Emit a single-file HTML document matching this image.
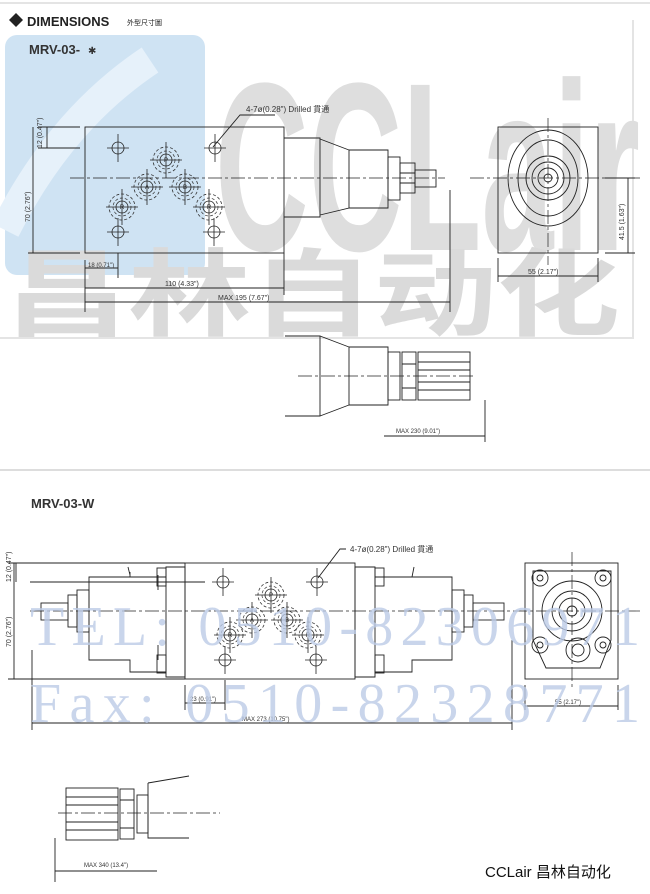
<!DOCTYPE html>
<html><head><meta charset="utf-8"><style>
html,body{margin:0;padding:0;background:#fff}
svg{display:block}
</style></head><body>
<svg width="650" height="894" viewBox="0 0 650 894" xmlns="http://www.w3.org/2000/svg" font-family="Liberation Sans, Noto Sans CJK SC, sans-serif">
<defs>
<g id="h"><circle r="6" fill="none" stroke="#222" stroke-width="0.8"/><path d="M-11 0H11M0 -14V14" stroke="#222" stroke-width="0.8"/></g>
<g id="p"><circle r="13" fill="none" stroke="#333" stroke-width="0.8" stroke-dasharray="3 2"/><circle r="9" fill="none" stroke="#333" stroke-width="0.7" stroke-dasharray="3 2"/><circle r="6" fill="none" stroke="#222" stroke-width="0.8"/><path d="M-16 0H16M0 -18V18" stroke="#222" stroke-width="0.8"/></g>
</defs>
<rect x="0" y="0" width="650" height="340" fill="#fff"/>
<path d="M0 3H650M633 20V338H0" stroke="#e4e4e4" stroke-width="2" fill="none"/>
<!-- watermark -->
<rect x="5" y="35" width="200" height="240" rx="12" fill="#cfe3f3"/>
<path d="M5 230 Q60 120 150 60" stroke="#e6f1fa" stroke-width="30" fill="none"/>
<text x="215" y="250" font-size="240" font-weight="bold" fill="#dedede" textLength="425" lengthAdjust="spacingAndGlyphs">CCLair</text>
<text x="5" y="328" font-size="95" font-weight="bold" fill="#dadada" style="font-family:'Noto Sans CJK SC',sans-serif" textLength="615" lengthAdjust="spacingAndGlyphs">昌林自动化</text>
<!-- header -->
<path d="M9 20L16 13L23 20L16 27Z" fill="#222"/>
<text x="27" y="26" font-size="13" font-weight="bold" fill="#222">DIMENSIONS</text>
<text x="127" y="25" font-size="7" fill="#222">外型尺寸圖</text>
<text x="29" y="54" font-size="13" font-weight="bold" fill="#333">MRV-03-</text>
<text x="88" y="54" font-size="10" fill="#333">✱</text>
<g stroke="#222" stroke-width="0.9" fill="none">
<rect x="85" y="127" width="199" height="126"/>
<path d="M284 138H320V217H284M320 139L349 150V208L320 215M349 150H388V208H349"/>
<rect x="388" y="157" width="12" height="43"/>
<rect x="400" y="163" width="15" height="30"/>
<path d="M400 173H415M400 183H415"/>
<rect x="415" y="170" width="21" height="17"/>
<path d="M70 178H445M470 178H640" stroke-dasharray="14 3 3 3" stroke-width="0.7"/>
<path d="M548 118V265" stroke-dasharray="14 3 3 3" stroke-width="0.7"/>
<rect x="498" y="127" width="100" height="126"/>
<ellipse cx="548" cy="178" rx="40" ry="48"/>
<ellipse cx="548" cy="178" rx="30" ry="38"/>
<circle cx="548" cy="178" r="22"/><circle cx="548" cy="178" r="16"/><circle cx="548" cy="178" r="10"/><circle cx="548" cy="178" r="4"/>
<path d="M38 127H80M38 148H80M47 127V148M28 253H80M33 127V253M85 260V312M118 253V278M284 253V295M450 190V312M85 268H118M85 288H284M85 302H450M498 258V282M598 258V282M498 276H598M605 178H635M605 253H635M628 178V253"/>
<path d="M213 147L240 115H275"/>
<path d="M285 336H320V416H285M320 336L349 347V405L320 416M349 347H388V405H349"/>
<rect x="388" y="352" width="12" height="48"/>
<rect x="402" y="352" width="14" height="48"/>
<rect x="418" y="352" width="52" height="48"/>
<path d="M402 364H416M402 388H416M418 362H470M418 370H470M418 382H470M418 390H470M485 400V442M384 436H485"/>
<path d="M298 376H475" stroke-dasharray="14 3 3 3" stroke-width="0.7"/>
<rect x="185" y="563" width="170" height="116"/>
<path d="M166 567H185V677H166ZM166 577H130V575L128 567M130 577H89V660H130V672H166M130 577V572M158 575V590M158 645V660"/>
<path d="M375 567H355V677H375ZM375 577H412L414 567M412 577H452V660H412V672H375"/>
<rect x="157" y="568" width="9" height="18"/><rect x="157" y="655" width="9" height="18"/>
<rect x="375" y="568" width="9" height="18"/><rect x="375" y="655" width="9" height="18"/>
<rect x="77" y="590" width="12" height="42"/><rect x="68" y="595" width="9" height="32"/>
<rect x="41" y="603" width="27" height="17"/>
<rect x="452" y="590" width="12" height="42"/><rect x="464" y="595" width="9" height="32"/>
<rect x="473" y="603" width="31" height="17"/>
<path d="M30 611H640" stroke-dasharray="14 3 3 3" stroke-width="0.7"/>
<path d="M572 552V690" stroke-dasharray="14 3 3 3" stroke-width="0.7"/>
<rect x="525" y="563" width="93" height="116"/>
<path d="M533 571H611V640L600 668H546L533 640Z"/>
<circle cx="572" cy="611" r="30"/><circle cx="572" cy="611" r="20"/><circle cx="572" cy="611" r="13"/><circle cx="572" cy="611" r="5"/>
<circle cx="578" cy="650" r="12"/><circle cx="578" cy="650" r="6"/>
<circle cx="540" cy="578" r="8"/><circle cx="540" cy="578" r="3"/>
<circle cx="603" cy="578" r="8"/><circle cx="603" cy="578" r="3"/>
<circle cx="540" cy="645" r="8"/><circle cx="540" cy="645" r="3"/>
<circle cx="603" cy="645" r="8"/><circle cx="603" cy="645" r="3"/>
<path d="M8 563H185M30 582H205M8 679H185M16 563V582M14 563V679M185 685V710M225 680V710M185 703H225M32 650V730M512 640V730M32 723H512M525 685V710M618 685V710M525 706H618"/>
<path d="M318 578L340 549H346"/>
<rect x="66" y="788" width="52" height="52"/>
<path d="M66 797H118M66 805H118M66 822H118M66 830H118"/>
<rect x="120" y="789" width="14" height="50"/>
<path d="M120 800H134M120 828H134"/>
<rect x="137" y="795" width="11" height="38"/>
<path d="M148 783L189 776M148 783V838H189"/>
<path d="M58 813H220" stroke-dasharray="14 3 3 3" stroke-width="0.7"/>
<path d="M55 838V882M55 871H157"/>
</g>
<use href="#h" x="118" y="148"/><use href="#h" x="215" y="148"/>
<use href="#h" x="118" y="232"/><use href="#h" x="214" y="232"/>
<use href="#p" x="166" y="160"/><use href="#p" x="147" y="187"/><use href="#p" x="185" y="187"/>
<use href="#p" x="122" y="207"/><use href="#p" x="209" y="207"/>
<g font-size="6" fill="#222" text-anchor="middle"><text x="166" y="162">P</text><text x="147" y="189">A</text><text x="185" y="189">B</text><text x="122" y="209">R</text><text x="209" y="209">R</text>
<text x="271" y="597">P</text><text x="252" y="622">A</text><text x="287" y="622">B</text><text x="230" y="637">R</text><text x="308" y="637">R</text></g>
<use href="#h" x="223" y="582"/><use href="#h" x="317" y="582"/>
<use href="#h" x="225" y="660"/><use href="#h" x="316" y="660"/>
<use href="#p" x="271" y="595"/><use href="#p" x="252" y="620"/><use href="#p" x="287" y="620"/>
<use href="#p" x="230" y="635"/><use href="#p" x="308" y="635"/>
<g fill="#333" font-size="7">
<text x="246" y="112" font-size="8">4-7ø(0.28") Drilled 貫通</text>
<text transform="translate(42,148) rotate(-90)">12 (0.47")</text>
<text transform="translate(30,222) rotate(-90)">70 (2.76")</text>
<text x="88" y="267" font-size="6">18 (0.71")</text>
<text x="165" y="286">110 (4.33")</text>
<text x="218" y="300">MAX  195 (7.67")</text>
<text x="528" y="274">55 (2.17")</text>
<text transform="translate(624,240) rotate(-90)">41.5 (1.63")</text>
<text x="396" y="433" font-size="6">MAX 230 (9.01")</text>
<text x="350" y="552" font-size="8">4-7ø(0.28") Drilled 貫通</text>
<text transform="translate(11,582) rotate(-90)">12 (0.47")</text>
<text transform="translate(11,647) rotate(-90)">70 (2.76")</text>
<text x="190" y="701" font-size="6">23 (0.91")</text>
<text x="242" y="721" font-size="6">MAX 273 (10.75")</text>
<text x="555" y="704" font-size="6">55 (2.17")</text>
<text x="84" y="867" font-size="6">MAX 340 (13.4")</text>
</g>
<path d="M0 470H650" stroke="#ddd" stroke-width="2"/>
<text x="31" y="508" font-size="13" font-weight="bold" fill="#333">MRV-03-W</text>
<g style="font-family:'Liberation Serif',serif" font-size="56" fill="#bccbe6" fill-opacity="0.8">
<text x="30" y="645" textLength="610" lengthAdjust="spacing">TEL: 0510-82306971</text>
<text x="30" y="722" textLength="610" lengthAdjust="spacing">Fax: 0510-82328771</text>
</g>
<text x="485" y="877" font-size="15" fill="#111">CCLair 昌林自动化</text>
</svg>
</body></html>
